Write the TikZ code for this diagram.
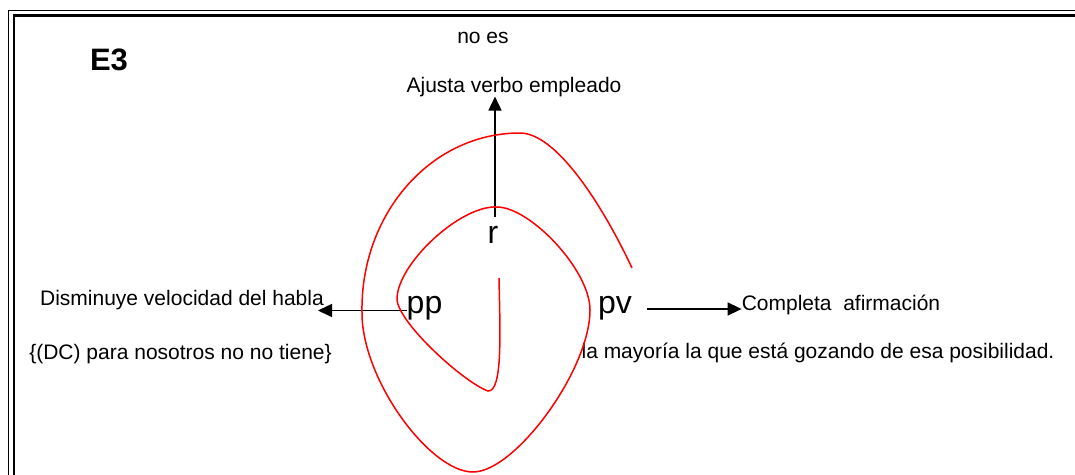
\documentclass[tikz,border=0pt]{standalone}
\usepackage{fontspec}
\setmainfont{Liberation Sans}
\usetikzlibrary{arrows.meta}
\tikzset{
  small/.style={font=\fontsize{21}{25}\selectfont, inner sep=0pt, anchor=base},
  big/.style={font=\fontsize{32}{38}\selectfont, inner sep=0pt, anchor=base},
  arr/.style={line width=1.6pt, -{Triangle[length=14pt,width=13pt]}},
  spiral/.style={red, line width=1.5pt},
}
\begin{document}
\begin{tikzpicture}[x=1pt,y=-1pt]
\useasboundingbox (0,0) rectangle (1075,474);
\fill[white] (0,0) rectangle (1075,474);
\begin{scope}
\clip (0,0) rectangle (1075,474);
\draw[line width=1.8pt] (8.5,10.5) rectangle (1100,520);
\draw[line width=2.8pt] (14,15.5) rectangle (1100,520);
\end{scope}

\node[font=\fontsize{31}{37}\selectfont\bfseries, inner sep=0pt, anchor=base] (e3) at (109,70) {E3};
\node[small] (noes) at (483,43) {no es};
\node[small] (ajusta) at (514,92) {Ajusta verbo empleado};
\node[big] (r) at (493,243) {r};
\node[big] (pp) at (424.5,313) {pp};
\node[big] (pv) at (615,313) {pv};
\node[small] (dism) at (182,305) {Disminuye velocidad del habla};
\node[small] (dc) at (180.5,359) {\{(DC) para nosotros no no tiene\}};
\node[small] (compl) at (841,310) {Completa\ \ afirmación};
\node[small] (may) at (818,358) {la mayoría la que está gozando de esa posibilidad.};

\coordinate (rtop) at (495,217);
\coordinate (ltip) at (318,310.5);
\coordinate (rstart) at (647,309);

\draw[arr] (rtop) -- (rtop |- ajusta.south);
\draw[arr] (pp.west |- ltip) -- (ltip);
\draw[arr] (rstart) -- (compl.west |- rstart);

\draw[spiral] (499,278)
  .. controls (500,330) and (503,392) .. (488,391)
  .. controls (465,383) and (400,325) .. (397,300)
  .. controls (396,265) and (460,205) .. (497,207)
  .. controls (530,207) and (590,270) .. (590,310)
  .. controls (590,370) and (515,472) .. (473,472)
  .. controls (430,472) and (362,380) .. (362,313)
  .. controls (360,215) and (430,133) .. (520,133)
  .. controls (555,133) and (600,200) .. (632,268);
\end{tikzpicture}
\end{document}
